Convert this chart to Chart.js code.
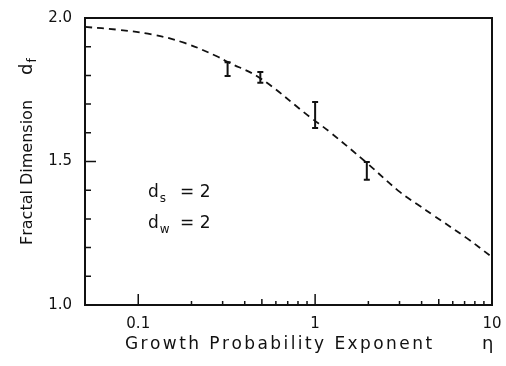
<!DOCTYPE html>
<html>
<head>
<meta charset="utf-8">
<script src="https://cdn.jsdelivr.net/npm/chart.js@4/dist/chart.umd.min.js"></script>
<style>
  html, body { margin: 0; padding: 0; background: #fff; }
  canvas { display: block; }
</style>
</head>
<body>
<canvas id="c" width="506" height="366"></canvas>
<script>
// ---- data ----
const curveEta = [0.05, 0.077, 0.119, 0.183, 0.282, 0.317, 0.487, 0.934, 1.21, 1.96, 3.01, 3.91, 4.62, 7.2, 10];
const curveDf  = [1.969, 1.959, 1.943, 1.913, 1.865, 1.848, 1.791, 1.655, 1.603, 1.495, 1.394, 1.345, 1.314, 1.233, 1.167];

const pointEta = [0.32, 0.49, 1.0, 1.96];
const pointDf  = [1.822, 1.793, 1.662, 1.467];
const pointErr = [0.024, 0.019, 0.045, 0.031];

const xMajorTicks = [0.1, 1, 10];
const xMinorTicks = [0.2, 0.3, 0.4, 0.5, 0.6, 0.7, 0.8, 0.9, 2, 3, 4, 5, 6, 7, 8, 9];
const xTickLabels = ['0.1', '1', '10'];
const yTicks = [1.0, 1.1, 1.2, 1.3, 1.4, 1.5, 1.6, 1.7, 1.8, 1.9, 2.0];
const yMajorTicks = [1.0, 1.5, 2.0];
const yTickLabels = ['1.0', '1.5', '2.0'];

const xTitle = 'Growth Probability Exponent';
const xTitleSymbol = 'η';
const yTitle = 'Fractal Dimension';
const annotations = [
  { main: 'd', sub: 's', rest: '= 2' },
  { main: 'd', sub: 'w', rest: '= 2' }
];

const INK = '#111';
const FONT = '"DejaVu Sans", sans-serif';

function spacedText(ctx, text, x, y, targetWidth) {
  const w = ctx.measureText(text).width;
  const extra = Math.max(0, (targetWidth - w) / (text.length - 1));
  let cx = x;
  for (const ch of text) {
    ctx.fillText(ch, cx, y);
    cx += ctx.measureText(ch).width + extra;
  }
}

const decor = {
  id: 'decor',
  afterDatasetsDraw(chart) {
    const ctx = chart.ctx;
    const a = chart.chartArea;
    const xs = chart.scales.x, ys = chart.scales.y;
    ctx.save();
    ctx.strokeStyle = INK;
    ctx.fillStyle = INK;

    // error bars
    ctx.lineWidth = 2;
    pointEta.forEach((e, i) => {
      const px = xs.getPixelForValue(e);
      const top = ys.getPixelForValue(pointDf[i] + pointErr[i]);
      const bot = ys.getPixelForValue(pointDf[i] - pointErr[i]);
      ctx.beginPath();
      ctx.moveTo(px, top); ctx.lineTo(px, bot);
      ctx.moveTo(px - 3, top); ctx.lineTo(px + 3, top);
      ctx.moveTo(px - 3, bot); ctx.lineTo(px + 3, bot);
      ctx.stroke();
    });

    // frame
    ctx.lineWidth = 2;
    ctx.strokeRect(a.left, a.top, a.right - a.left, a.bottom - a.top);

    // inward ticks
    ctx.lineWidth = 1.5;
    ctx.beginPath();
    xMajorTicks.forEach(v => {
      const px = xs.getPixelForValue(v);
      ctx.moveTo(px, a.bottom); ctx.lineTo(px, a.bottom - 11);
    });
    xMinorTicks.forEach(v => {
      const px = xs.getPixelForValue(v);
      const len = (v === 0.5 || v === 5) ? 6 : 4;
      ctx.moveTo(px, a.bottom); ctx.lineTo(px, a.bottom - len);
    });
    yTicks.forEach(v => {
      const py = ys.getPixelForValue(v);
      const len = yMajorTicks.includes(v) ? 11 : 6;
      ctx.moveTo(a.left, py); ctx.lineTo(a.left + len, py);
    });
    ctx.stroke();

    // annotations
    const rowY = [193, 224];
    annotations.forEach((an, i) => {
      ctx.textBaseline = 'middle';
      ctx.textAlign = 'left';
      ctx.font = '17px ' + FONT;
      ctx.fillText(an.main, 148, rowY[i]);
      const w = ctx.measureText(an.main).width;
      ctx.font = '12px ' + FONT;
      ctx.fillText(an.sub, 148 + w + 1, rowY[i] + 6);
      ctx.font = '17px ' + FONT;
      ctx.fillText(an.rest, 180, rowY[i]);
    });

    // x title
    ctx.font = '17px ' + FONT;
    ctx.textAlign = 'left';
    ctx.textBaseline = 'alphabetic';
    spacedText(ctx, xTitle, 125, 349, 306);
    ctx.font = '18px ' + FONT;
    ctx.fillText(xTitleSymbol, 482, 349);

    // y title (rotated)
    ctx.save();
    ctx.translate(32, 245);
    ctx.rotate(-Math.PI / 2);
    ctx.font = '16px ' + FONT;
    ctx.textAlign = 'left';
    ctx.textBaseline = 'alphabetic';
    spacedText(ctx, yTitle, 0, 0, 142);
    ctx.font = '18px ' + FONT;
    ctx.fillText('d', 170, 0);
    const dw = ctx.measureText('d').width;
    ctx.font = '12px ' + FONT;
    ctx.fillText('f', 170 + dw + 1, 4);
    ctx.restore();

    ctx.restore();
  }
};

new Chart(document.getElementById('c'), {
  type: 'scatter',
  data: {
    datasets: [
      {
        data: curveEta.map((e, i) => ({ x: e, y: curveDf[i] })),
        showLine: true,
        borderColor: INK,
        borderWidth: 1.8,
        borderDash: [7, 5],
        pointRadius: 0,
        tension: 0.4,
        fill: false
      },
      {
        data: pointEta.map((e, i) => ({ x: e, y: pointDf[i] })),
        pointRadius: 0,
        showLine: false
      }
    ]
  },
  options: {
    responsive: false,
    animation: false,
    layout: { padding: { top: 18, right: 14, left: 0, bottom: 0 } },
    plugins: { legend: { display: false }, tooltip: { enabled: false } },
    scales: {
      x: {
        type: 'logarithmic',
        min: 0.05, max: 10,
        grid: { display: false, drawTicks: false },
        border: { display: false },
        afterBuildTicks: s => { s.ticks = xMajorTicks.map(v => ({ value: v })); },
        afterFit: s => { s.height = 61; s.paddingLeft = 0; s.paddingRight = 0; },
        ticks: {
          autoSkip: false, maxRotation: 0, padding: 10,
          color: INK,
          font: { family: FONT, size: 15 },
          callback: (v) => { const k = xMajorTicks.indexOf(v); return k >= 0 ? xTickLabels[k] : ''; }
        }
      },
      y: {
        min: 1.0, max: 2.0,
        grid: { display: false, drawTicks: false },
        border: { display: false },
        afterBuildTicks: s => { s.ticks = yMajorTicks.map(v => ({ value: v })); },
        afterFit: s => { s.width = 85; s.paddingTop = 0; s.paddingBottom = 0; },
        ticks: {
          autoSkip: false, padding: 13,
          color: INK,
          font: { family: FONT, size: 15 },
          callback: (v) => { const k = yMajorTicks.findIndex(t => Math.abs(t - v) < 1e-9); return k >= 0 ? yTickLabels[k] : ''; }
        }
      }
    }
  },
  plugins: [decor]
});
</script>
</body>
</html>
